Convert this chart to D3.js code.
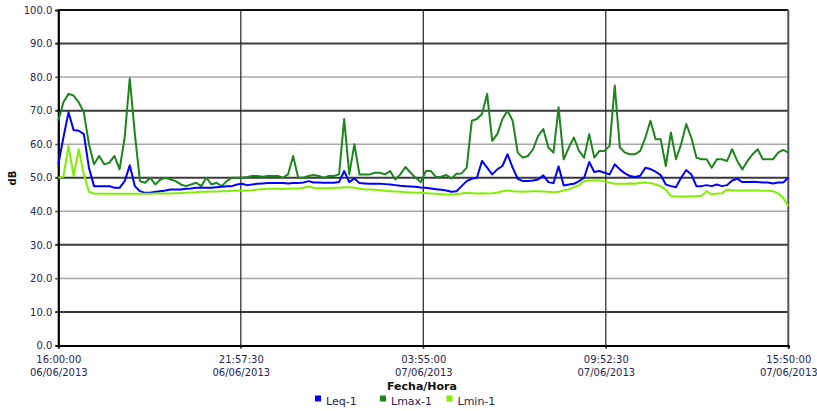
<!DOCTYPE html>
<html><head><meta charset="utf-8">
<script src="https://cdn.jsdelivr.net/npm/d3@7"></script>
<style>html,body{margin:0;padding:0;background:#fff;overflow:hidden}</style>
</head><body>
<svg id="chart" width="817" height="411"></svg>
<script>
// ---- data (10-minute samples, 16:00 06/06/2013 to 15:50 07/06/2013) ----
const seriesNames = ["Leq-1", "Lmax-1", "Lmin-1"];
const startTime = "2013-06-06T16:00:00Z";
const endTime = "2013-06-07T15:50:00Z";
const sampleMinutes = 10;

const lmax = [67,72.5,75,74.5,72.5,69.5,60,54,56.5,54,54.5,56.5,52.5,62,79.6,63,49,
  48.5,50,48,49.5,50,49.5,49,48,47.5,48,48.5,47.5,50,48,48.5,47.5,49,50,50,50,
  50.2,50.5,50.5,50.3,50.5,50.5,50.5,50,51,56.5,50,50,50.5,50.8,50.5,50,50.5,50.5,51,67.5,51,60,51,51,51,51.5,51.5,51,52,49.5,51,53.2,51.5,50,48.7,52,
  52,50.2,50.3,50.8,49.8,51.2,51.3,53,67,67.5,69,75,61,63,67.5,70,67,57.5,56,56.5,58.5,62.5,64.5,59,57.5,71,55.5,59,62,58,56,63,56,58,58,59.5,
  77.5,59,57.5,57,57,58,62,67,61.5,61.5,53.5,63.5,55.5,60,66,62,56,55.5,55.5,53,55.5,55.5,55,58.5,55,52.5,55,57,58.5,55.5,55.5,55.5,57.5,58.3,57.5];

const leq = [54,62,69.5,64.2,64,63,53,47.5,47.5,47.5,47.5,47,47,49,53.7,47.5,46,
  45.5,45.5,45.8,46,46.2,46.5,46.5,46.5,46.7,46.8,47,47,47,47,47.2,47.3,47.5,47.5,48,48.2,
  47.8,48,48.2,48.3,48.4,48.4,48.4,48.4,48.3,48.4,48.4,48.6,49,48.6,48.6,48.5,48.5,48.5,48.7,52,48.7,49.8,48.4,48.3,48.2,48.2,48.2,48.1,48,47.8,47.6,47.5,47.4,47.3,47.1,47,
  46.8,46.6,46.4,46.2,45.8,46,47.5,49,49.7,50,55,53,51,52.5,53.5,57,53,49.7,49,49,49.2,49.5,50.7,48.7,48.4,53.4,47.7,48,48.2,49,50,54.7,51.7,52,51.5,51,
  54,52.5,51.3,50.5,50.2,50.6,53,52.6,51.8,50.8,48,47.5,47.2,50,52.3,51,47.5,47.5,47.8,47.5,48,47.5,47.8,49.2,49.7,48.7,48.7,48.8,48.7,48.6,48.6,48.3,48.6,48.6,50];

const lmin = [50,50.3,59.5,50.5,58.5,51,45.8,45.3,45.2,45.2,45.2,45.2,45.2,45.2,45.2,45.2,45.2,
  45.2,45.2,45.3,45.3,45.3,45.3,45.4,45.4,45.5,45.6,45.7,45.8,45.8,45.9,45.9,46,46,46.1,46.1,46.2,
  46.2,46.3,46.5,46.6,46.7,46.7,46.7,46.7,46.7,46.8,46.8,47,47.4,47,46.9,46.9,46.9,47,47,47.2,47.2,47,46.7,46.5,46.5,46.4,46.3,46.1,46,45.9,45.8,45.7,45.6,45.5,45.5,45.4,
  45.3,45.2,45.1,45,45,45.1,45.3,45.5,45.4,45.3,45.4,45.3,45.4,45.6,46,46.2,46,45.9,45.8,45.9,46,46,45.9,45.8,45.7,45.8,46.2,46.5,47.2,47.8,49,49.2,49.2,49.2,49,48.5,
  48.2,48.2,48.2,48.3,48.2,48.5,48.6,48.4,48,47.5,46.4,44.6,44.4,44.4,44.4,44.5,44.5,44.6,46,45,45.3,45.4,46.5,46.2,46.2,46.2,46.2,46.2,46.2,46.1,46.1,46,45.3,44,41.5];

const xTickTimes = ["16:00:00", "21:57:30", "03:55:00", "09:52:30", "15:50:00"];
const xTickDates = ["06/06/2013", "06/06/2013", "07/06/2013", "07/06/2013", "07/06/2013"];
const xTickISO = ["2013-06-06T16:00:00Z","2013-06-06T21:57:30Z","2013-06-07T03:55:00Z","2013-06-07T09:52:30Z","2013-06-07T15:50:00Z"];
const yTicks = [0,10,20,30,40,50,60,70,80,90,100];
const yLabel = "dB";
const xLabel = "Fecha/Hora";

// ---- drawing ----
const colors = ["#0000ff", "#1c861c", "#80f000"];
const svg = d3.select("#chart");
const L = 58.3, R = 788.3, T = 10, B = 345.5;
const t0 = new Date(startTime), t1 = new Date(endTime);
const x = d3.scaleUtc().domain([t0, t1]).range([L, R]);
const y = d3.scaleLinear().domain([0, 100]).range([B, T]);
const textColor = "#25255a";
const font = "DejaVu Sans";

// horizontal grid
svg.append("g").selectAll("line").data(yTicks.filter(v => v > 0 && v < 100)).join("line")
  .attr("x1", L - 3).attr("x2", R)
  .attr("y1", d => y(d)).attr("y2", d => y(d))
  .attr("stroke", d => (d / 10) % 2 === 1 ? "#3a3a3a" : "#a8a8a8")
  .attr("stroke-width", d => (d / 10) % 2 === 1 ? 2 : 1.5);

// vertical grid
const xTickDatesObj = xTickISO.map(s => new Date(s));
svg.append("g").selectAll("line").data(xTickDatesObj.slice(1, -1)).join("line")
  .attr("x1", d => x(d)).attr("x2", d => x(d))
  .attr("y1", T).attr("y2", B + 3)
  .attr("stroke", "#222").attr("stroke-width", 1.2);

// frame
svg.append("line").attr("x1", L).attr("x2", R).attr("y1", T).attr("y2", T).attr("stroke", "#111").attr("stroke-width", 2);
svg.append("line").attr("x1", R).attr("x2", R).attr("y1", T).attr("y2", B).attr("stroke", "#555").attr("stroke-width", 2);

// axes
const yAxis = d3.axisLeft(y).tickValues(yTicks).tickFormat(d3.format(".1f")).tickSize(3).tickPadding(3);
const gy = svg.append("g").attr("transform", `translate(${L},0)`).call(yAxis);
gy.select(".domain").attr("stroke", "#000").attr("stroke-width", 2.2);
gy.selectAll(".tick line").attr("stroke", "#333");
gy.selectAll("text").attr("fill", textColor).style("font-family", font).style("font-size", "10px");

const xAxis = d3.axisBottom(x).tickValues(xTickDatesObj).tickFormat(() => "").tickSize(3);
const gx = svg.append("g").attr("transform", `translate(0,${B})`).call(xAxis);
gx.select(".domain").attr("stroke", "#000").attr("stroke-width", 2.2);
gx.selectAll(".tick line").attr("stroke", "#222");
gx.selectAll(".tick").each(function(d, i) {
  const g = d3.select(this);
  g.append("text").attr("y", 17).attr("text-anchor", "middle").attr("fill", textColor)
    .style("font-family", font).style("font-size", "10px").text(xTickTimes[i]);
  g.append("text").attr("y", 30.5).attr("text-anchor", "middle").attr("fill", textColor)
    .style("font-family", font).style("font-size", "10px").text(xTickDates[i]);
});

// series
const seriesData = [leq, lmax, lmin];
const line = d3.line()
  .x((d, i) => x(new Date(t0.getTime() + i * sampleMinutes * 60000)))
  .y(d => y(d));
[1, 0, 2].forEach(k => {
  svg.append("path").datum(seriesData[k]).attr("d", line)
    .attr("fill", "none").attr("stroke", colors[k]).attr("stroke-width", 2)
    .attr("stroke-linejoin", "round");
});

// axis titles
svg.append("text").attr("transform", "translate(16,178) rotate(-90)").attr("text-anchor", "middle")
  .attr("fill", "#111").style("font-family", font).style("font-size", "10px").style("font-weight", "bold").text(yLabel);
svg.append("text").attr("x", 422).attr("y", 389.5).attr("text-anchor", "middle")
  .attr("fill", "#111").style("font-family", font).style("font-size", "11px").style("font-weight", "bold").text(xLabel);

// legend
const legendX = [315, 380, 446.5];
const lg = svg.append("g");
seriesNames.forEach((n, i) => {
  lg.append("rect").attr("x", legendX[i]).attr("y", 395.5).attr("width", 6).attr("height", 6).attr("fill", colors[i]);
  lg.append("text").attr("x", legendX[i] + 11).attr("y", 405).attr("fill", textColor)
    .style("font-family", font).style("font-size", "11px").text(n);
});
</script>
</body></html>
